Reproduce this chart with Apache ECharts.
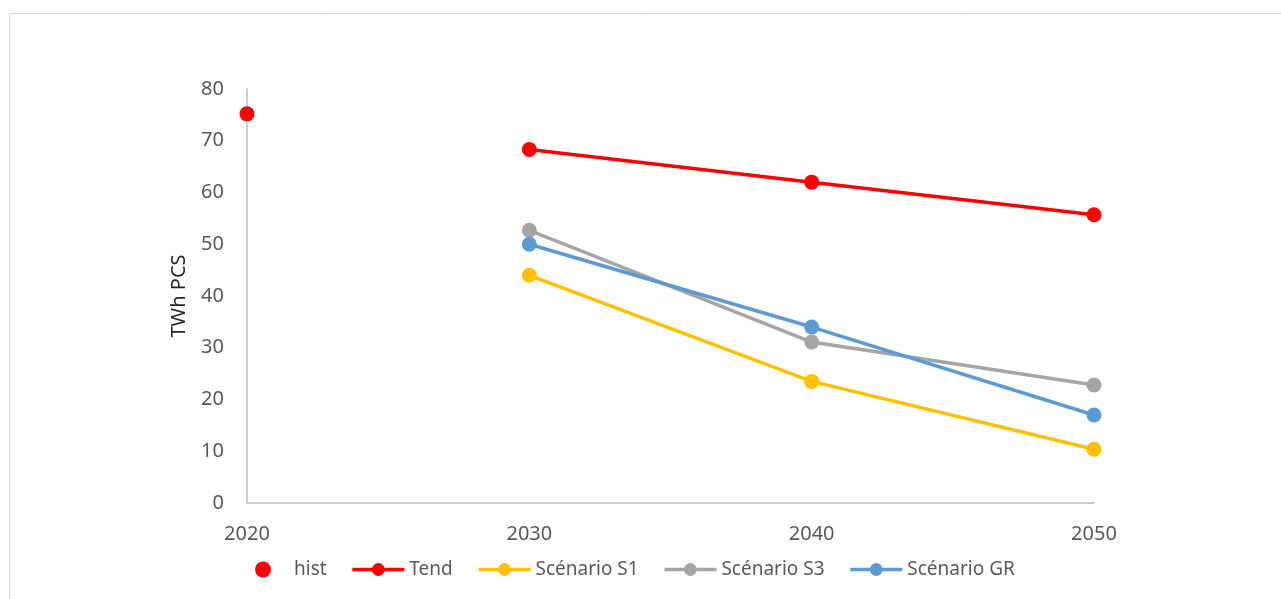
<!DOCTYPE html>
<html>
<head>
<meta charset="utf-8">
<script src="https://cdn.jsdelivr.net/npm/echarts@6/dist/echarts.min.js"></script>
<style>
  * { margin: 0; padding: 0; }
  body { background: #fff; }
</style>
</head>
<body>
<!-- conteneur du graphique -->
<div id="main" style="width: 1281px; height: 599px;"></div>
<script>
  var histYears = [2020];
  var histValues = [75.2];
  var years = [2030, 2040, 2050];
  var tend = [68.3, 62.0, 55.7];
  var s1 = [44.0, 23.5, 10.4];
  var s3 = [52.7, 31.1, 22.8];
  var gr = [50.0, 34.0, 17.0];

  var font = 'Noto Sans';

  function pairs(xs, ys) {
    return xs.map(function (x, i) { return [x, ys[i]]; });
  }

  function lineSerie(name, color, values) {
    return {
      name: name,
      type: 'line',
      data: pairs(years, values),
      symbol: 'circle',
      symbolSize: 15,
      itemStyle: { color: color },
      lineStyle: { color: color, width: 3.5 }
    };
  }

  var chart = echarts.init(document.getElementById('main'));
  chart.setOption({
    animation: false,
    textStyle: { fontFamily: font },
    graphic: [{
      type: 'rect',
      shape: { x: 9.5, y: 13.5, width: 1400, height: 700 },
      style: { fill: 'none', stroke: '#d9d9d9', lineWidth: 1 },
      silent: true
    }],
    grid: { left: 247, right: 187, top: 89, bottom: 96 },
    legend: {
      left: 250,
      top: 555,
      itemWidth: 52,
      itemHeight: 16,
      itemGap: 24,
      lineStyle: { width: 3.5 },
      textStyle: { fontFamily: font, fontSize: 19, color: '#595959' },
      data: ['hist', 'Tend', 'Scénario S1', 'Scénario S3', 'Scénario GR']
    },
    xAxis: {
      type: 'value',
      min: 2020,
      max: 2050,
      interval: 10,
      axisLine: { lineStyle: { color: '#bfbfbf', width: 1.5 } },
      axisTick: { show: false },
      splitLine: { show: false },
      axisLabel: {
        margin: 21,
        fontSize: 20,
        color: '#595959',
        formatter: function (v) { return String(v); }
      }
    },
    yAxis: {
      type: 'value',
      min: 0,
      max: 80,
      interval: 10,
      name: 'TWh PCS',
      nameLocation: 'middle',
      nameGap: 58,
      nameTextStyle: { fontSize: 20, color: '#262626', fontFamily: font },
      axisLine: { show: true, lineStyle: { color: '#bfbfbf', width: 1.5 } },
      axisTick: { show: false },
      splitLine: { show: false },
      axisLabel: { margin: 23, fontSize: 20, color: '#595959' }
    },
    series: [
      {
        name: 'hist',
        type: 'scatter',
        data: pairs(histYears, histValues),
        symbol: 'circle',
        symbolSize: 15,
        itemStyle: { color: '#ff0000', opacity: 1 }
      },
      lineSerie('Tend', '#ff0000', tend),
      lineSerie('Scénario S1', '#ffc000', s1),
      lineSerie('Scénario S3', '#a5a5a5', s3),
      lineSerie('Scénario GR', '#5b9bd5', gr)
    ]
  });
</script>
</body>
</html>
